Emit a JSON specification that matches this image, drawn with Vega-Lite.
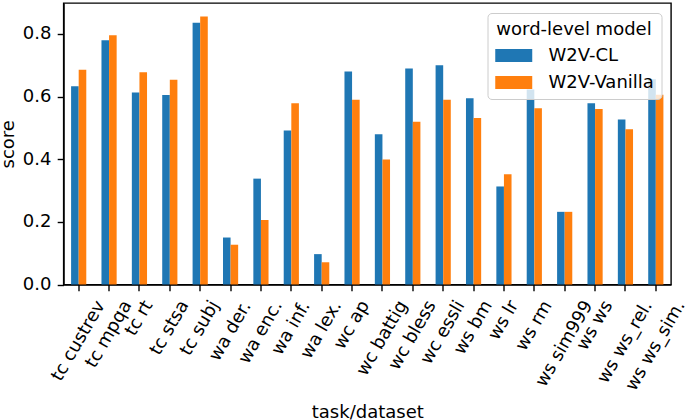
{
  "$schema": "https://vega.github.io/schema/vega-lite/v6.json",
  "width": 607.5,
  "height": 281.5,
  "autosize": {"type": "none"},
  "padding": {"left": 63.5, "top": 3, "right": 14, "bottom": 135.5},
  "background": "white",
  "config": {
    "font": "DejaVu Sans",
    "view": {"stroke": "black", "strokeWidth": 1.4},
    "axis": {
      "labelFont": "DejaVu Sans",
      "titleFont": "DejaVu Sans",
      "labelFontSize": 18,
      "titleFontSize": 18,
      "titleFontWeight": "normal",
      "labelColor": "black",
      "titleColor": "black",
      "tickColor": "black",
      "domainColor": "black",
      "tickWidth": 1.4,
      "domainWidth": 1.4,
      "tickSize": 6.3,
      "grid": false
    },
    "legend": {"labelFont": "DejaVu Sans", "titleFont": "DejaVu Sans"}
  },
  "data": {
    "values": [
      {"dataset": "tc custrev", "model": "W2V-CL", "score": 0.633},
      {"dataset": "tc custrev", "model": "W2V-Vanilla", "score": 0.686},
      {"dataset": "tc mpqa", "model": "W2V-CL", "score": 0.780},
      {"dataset": "tc mpqa", "model": "W2V-Vanilla", "score": 0.796},
      {"dataset": "tc rt", "model": "W2V-CL", "score": 0.613},
      {"dataset": "tc rt", "model": "W2V-Vanilla", "score": 0.678},
      {"dataset": "tc stsa", "model": "W2V-CL", "score": 0.605},
      {"dataset": "tc stsa", "model": "W2V-Vanilla", "score": 0.654},
      {"dataset": "tc subj", "model": "W2V-CL", "score": 0.836},
      {"dataset": "tc subj", "model": "W2V-Vanilla", "score": 0.856},
      {"dataset": "wa der.", "model": "W2V-CL", "score": 0.150},
      {"dataset": "wa der.", "model": "W2V-Vanilla", "score": 0.127},
      {"dataset": "wa enc.", "model": "W2V-CL", "score": 0.338},
      {"dataset": "wa enc.", "model": "W2V-Vanilla", "score": 0.206},
      {"dataset": "wa inf.", "model": "W2V-CL", "score": 0.492},
      {"dataset": "wa inf.", "model": "W2V-Vanilla", "score": 0.579},
      {"dataset": "wa lex.", "model": "W2V-CL", "score": 0.097},
      {"dataset": "wa lex.", "model": "W2V-Vanilla", "score": 0.071},
      {"dataset": "wc ap", "model": "W2V-CL", "score": 0.680},
      {"dataset": "wc ap", "model": "W2V-Vanilla", "score": 0.590},
      {"dataset": "wc battig", "model": "W2V-CL", "score": 0.480},
      {"dataset": "wc battig", "model": "W2V-Vanilla", "score": 0.399},
      {"dataset": "wc bless", "model": "W2V-CL", "score": 0.690},
      {"dataset": "wc bless", "model": "W2V-Vanilla", "score": 0.520},
      {"dataset": "wc essli", "model": "W2V-CL", "score": 0.700},
      {"dataset": "wc essli", "model": "W2V-Vanilla", "score": 0.590},
      {"dataset": "ws bm", "model": "W2V-CL", "score": 0.595},
      {"dataset": "ws bm", "model": "W2V-Vanilla", "score": 0.532},
      {"dataset": "ws lr", "model": "W2V-CL", "score": 0.313},
      {"dataset": "ws lr", "model": "W2V-Vanilla", "score": 0.352},
      {"dataset": "ws rm", "model": "W2V-CL", "score": 0.623},
      {"dataset": "ws rm", "model": "W2V-Vanilla", "score": 0.563},
      {"dataset": "ws sim999", "model": "W2V-CL", "score": 0.232},
      {"dataset": "ws sim999", "model": "W2V-Vanilla", "score": 0.232},
      {"dataset": "ws ws", "model": "W2V-CL", "score": 0.579},
      {"dataset": "ws ws", "model": "W2V-Vanilla", "score": 0.560},
      {"dataset": "ws ws_rel.", "model": "W2V-CL", "score": 0.527},
      {"dataset": "ws ws_rel.", "model": "W2V-Vanilla", "score": 0.496},
      {"dataset": "ws ws_sim.", "model": "W2V-CL", "score": 0.655},
      {"dataset": "ws ws_sim.", "model": "W2V-Vanilla", "score": 0.606}
    ]
  },
  "mark": {"type": "bar"},
  "encoding": {
    "x": {
      "field": "dataset",
      "type": "nominal",
      "sort": null,
      "scale": {"paddingInner": 0.5, "paddingOuter": 0.25},
      "axis": {
        "title": "task/dataset",
        "labelAngle": -60,
        "labelAlign": "center",
        "labelBaseline": "middle",
        "labelOverlap": false,
        "labelLimit": 0,
        "labelPadding": {"expr": "11 + 0.433 * ({'tc custrev': 89.6, 'tc mpqa': 74.1, 'tc rt': 37.1, 'tc stsa': 59.5, 'tc subj': 59.9, 'wa der.': 67.1, 'wa enc.': 69.6, 'wa inf.': 60.0, 'wa lex.': 63.9, 'wc ap': 52.8, 'wc battig': 83.4, 'wc bless': 76.6, 'wc essli': 70.2, 'ws bm': 58.8, 'ws lr': 42.2, 'ws rm': 54.8, 'ws sim999': 96.1, 'ws ws': 53.9, 'ws ws_rel.': 92.1, 'ws ws_sim.': 100.6})[datum.label]"},
        "titleY": 132.5,
        "titleBaseline": "alphabetic"
      }
    },
    "xOffset": {
      "field": "model",
      "type": "nominal",
      "sort": ["W2V-CL", "W2V-Vanilla"],
      "scale": {"paddingInner": 0, "paddingOuter": 0}
    },
    "y": {
      "field": "score",
      "type": "quantitative",
      "scale": {"domain": [0, 0.8988], "nice": false, "zero": true},
      "axis": {
        "title": "score",
        "values": [0, 0.2, 0.4, 0.6, 0.8],
        "format": ".1f",
        "labelPadding": 6.3,
        "titleX": -50.5,
        "titleBaseline": "alphabetic"
      }
    },
    "color": {
      "field": "model",
      "type": "nominal",
      "scale": {"domain": ["W2V-CL", "W2V-Vanilla"], "range": ["#1f77b4", "#ff7f0e"]},
      "legend": {
        "title": "word-level model",
        "orient": "top-right",
        "offset": 9.5,
        "fillColor": "rgba(255,255,255,0.8)",
        "strokeColor": "#cccccc",
        "cornerRadius": 4,
        "padding": 7.5,
        "titleFontSize": 18,
        "titleFontWeight": "normal",
        "titleColor": "black",
        "titleAnchor": "middle",
        "titlePadding": 7.5,
        "labelFontSize": 18,
        "labelColor": "black",
        "labelOffset": 34.5,
        "rowPadding": 8,
        "symbolType": "M-1,-0.7L3,-0.7L3,0.7L-1,0.7Z",
        "symbolSize": 342,
        "symbolStrokeWidth": 0,
        "symbolOpacity": 1
      }
    }
  }
}
